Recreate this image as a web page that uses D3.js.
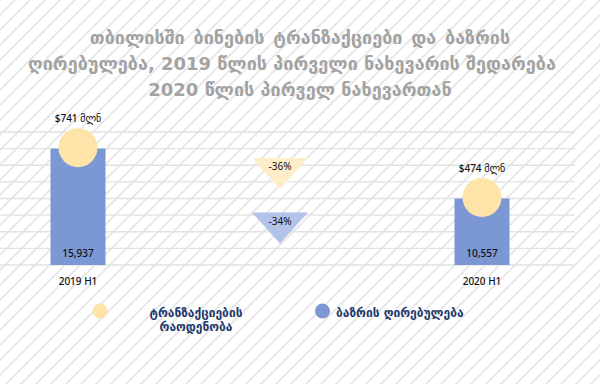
<!DOCTYPE html>
<html><head><meta charset="utf-8">
<script src="https://cdn.jsdelivr.net/npm/d3@7"></script>
<style>
html,body{margin:0;padding:0;background:#fff;}
svg{display:block;}
</style></head>
<body><svg id="c" width="600" height="384"></svg>
<script>
const titleLines = ["თბილისში ბინების ტრანზაქციები და ბაზრის", "ღირებულება, 2019 წლის პირველი ნახევარის შედარება", "2020 წლის პირველ ნახევართან"];
const categories = ["2019 H1", "2020 H1"];
const transactions = [15937, 10557];
const valueLabels = ["$741 მლნ", "$474 მლნ"];
const changes = ["-36%", "-34%"];
const legendLabels = [["ტრანზაქციების", "რაოდენობა"], ["ბაზრის ღირებულება"]];

const W = 600, H = 384;
const svg = d3.select("#c");
const defs = svg.append("defs");
const pat = defs.append("pattern").attr("id","hatch").attr("patternUnits","userSpaceOnUse")
  .attr("width",15).attr("height",15);
pat.append("path").attr("d","M-2,2 L2,-2 M0,15 L15,0 M13,17 L17,13")
  .attr("stroke","#e6e6e6").attr("stroke-width",1.8);
svg.append("rect").attr("width",W).attr("height",H).attr("fill","#fff");
svg.append("rect").attr("width",W).attr("height",H).attr("fill","url(#hatch)");

const font = "'Noto Sans','DejaVu Sans',sans-serif";

// title
svg.append("g").selectAll("text").data(titleLines).join("text")
  .attr("x",(d,i)=>i===1?292:300).attr("y",(d,i)=>44+i*26)
  .attr("text-anchor","middle").attr("font-family","'DejaVu Sans',sans-serif")
  .attr("font-weight","bold").attr("font-size",18).attr("fill","#a3a3a3")
  .attr("word-spacing",(d,i)=>i===0?2.5:0)
  .text(d=>d);

// scales
const x = d3.scaleBand().domain([categories[0], "change", categories[1]]).range([-23, 583]);
const step = (transactions[0]-transactions[1])/3;
const y0 = transactions[0] - 7*step;
const y = d3.scaleLinear().domain([y0, y0+8*step]).range([265, 132]);

// gridlines
const gridVals = d3.range(9).map(i => y0 + i*step);
svg.append("g").selectAll("line").data(gridVals).join("line")
  .attr("x1",0).attr("x2",575).attr("y1",d=>y(d)).attr("y2",d=>y(d))
  .attr("stroke","#e2e2e2").attr("stroke-width",1.3);

const bw = 55;
const cx = d => x(d) + x.bandwidth()/2;
const data = categories.map((c,i)=>({c, t:transactions[i], v:valueLabels[i]}));

svg.append("g").selectAll("rect").data(data).join("rect")
  .attr("x",d=>cx(d.c)-bw/2).attr("width",bw)
  .attr("y",d=>y(d.t)).attr("height",d=>y(y0)-y(d.t))
  .attr("fill","#7b97d4");

svg.append("g").selectAll("circle").data(data).join("circle")
  .attr("cx",d=>cx(d.c)).attr("cy",d=>y(d.t)-1).attr("r",19.5)
  .attr("fill","#ffe4a9");

svg.append("g").selectAll("text").data(data).join("text")
  .attr("x",d=>cx(d.c)).attr("y",d=>y(d.t)-27)
  .attr("text-anchor","middle").attr("font-family",font).attr("font-size",10)
  .attr("font-weight",500).attr("fill","#111").text(d=>d.v);

svg.append("g").selectAll("text").data(data).join("text")
  .attr("x",d=>cx(d.c)).attr("y",y(y0)-8)
  .attr("text-anchor","middle").attr("font-family",font).attr("font-size",10)
  .attr("font-weight",500).attr("fill","#111").text(d=>d3.format(",")(d.t));

svg.append("g").selectAll("text").data(categories).join("text")
  .attr("x",d=>cx(d)).attr("y",285)
  .attr("text-anchor","middle").attr("font-family",font).attr("font-size",10)
  .attr("font-weight",500).attr("fill","#111").text(d=>d);

// change triangles
const mx = cx("change");
const triTops = [158, 212.5];
const triFill = ["#fdedc9", "#b2c2e9"];
const tg = svg.append("g").selectAll("g").data(changes).join("g");
tg.append("path")
  .attr("d",(d,i)=>`M${mx-28},${triTops[i]} L${mx+28},${triTops[i]} L${mx},${triTops[i]+31} Z`)
  .attr("fill",(d,i)=>triFill[i]);
tg.append("text").attr("x",mx).attr("y",(d,i)=>triTops[i]+12)
  .attr("text-anchor","middle").attr("font-family",font).attr("font-size",10)
  .attr("fill","#111").text(d=>d);

// legend
const lg = svg.append("g");
lg.append("circle").attr("cx",100).attr("cy",311).attr("r",7.5).attr("fill","#ffe4a9");
lg.append("text").attr("text-anchor","middle").attr("font-family","'DejaVu Sans',sans-serif")
  .attr("font-weight","bold").attr("font-size",12).attr("fill","#23386a")
  .selectAll("tspan").data(legendLabels[0]).join("tspan")
  .attr("x",196).attr("y",(d,i)=>317+i*13.5).text(d=>d);
lg.append("circle").attr("cx",322.5).attr("cy",311).attr("r",7.5).attr("fill","#7b97d4");
lg.append("text").attr("x",336).attr("y",317).attr("font-family","'DejaVu Sans',sans-serif")
  .attr("font-weight","bold").attr("font-size",12).attr("fill","#23386a")
  .text(legendLabels[1][0]);
</script></body></html>
